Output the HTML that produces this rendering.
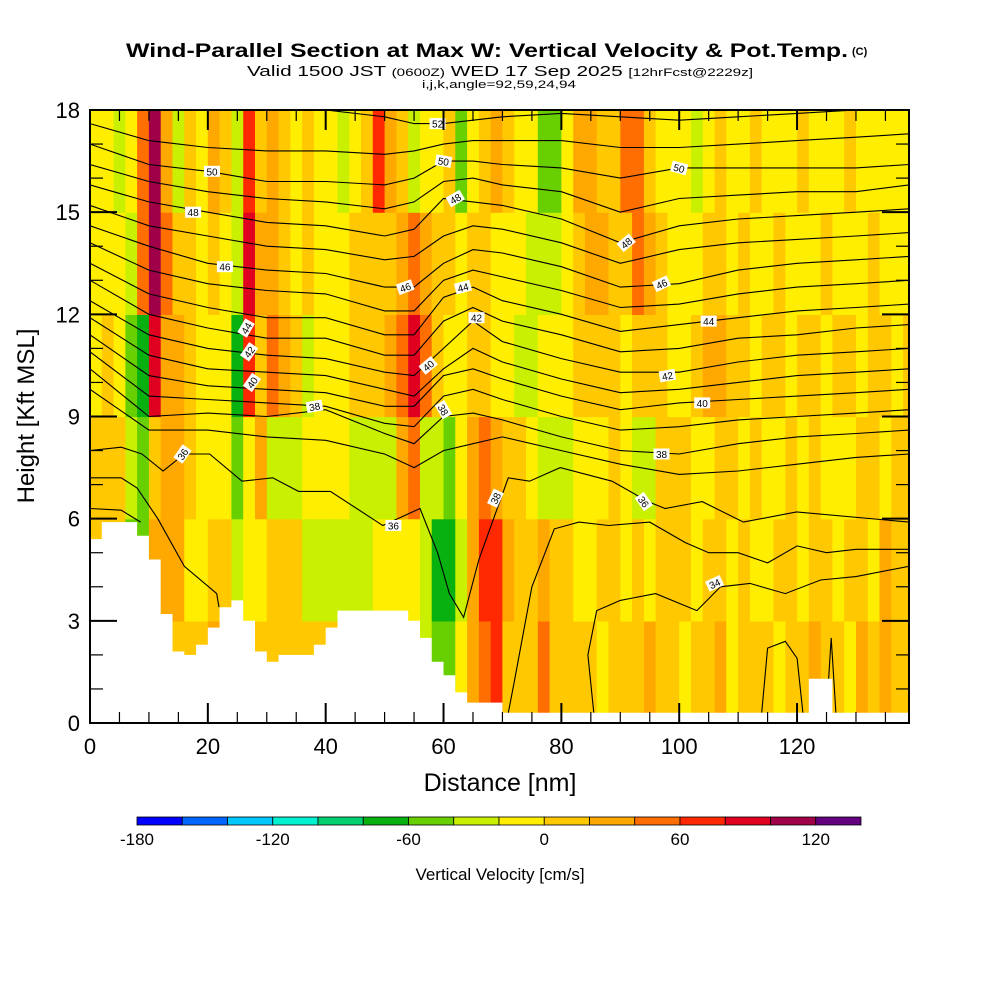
<!DOCTYPE html>
<html><head><meta charset="utf-8"><style>
html,body{margin:0;padding:0;background:#fff;}
svg{display:block;font-family:"Liberation Sans",Arial,sans-serif;}
</style></head><body>
<svg id="chart" width="1000" height="1000" viewBox="0 0 1000 1000">
<defs><clipPath id="plotclip"><rect x="90" y="110" width="819" height="613"/></clipPath></defs>
<g>
<text x="126" y="57" font-size="19" font-weight="bold" textLength="722" lengthAdjust="spacingAndGlyphs">Wind-Parallel Section at Max W: Vertical Velocity &amp; Pot.Temp.</text>
<text x="852" y="55" font-size="11" font-weight="bold">(C)</text>
<text x="247" y="76" font-size="15" textLength="506" lengthAdjust="spacingAndGlyphs">Valid 1500 JST <tspan font-size="11">(0600Z)</tspan> WED 17 Sep 2025 <tspan font-size="11">[12hrFcst@2229z]</tspan></text>
<text x="422" y="88" font-size="11" textLength="154" lengthAdjust="spacingAndGlyphs">i,j,k,angle=92,59,24,94</text>
</g>
<g id="field" clip-path="url(#plotclip)"></g>
<g id="contours" clip-path="url(#plotclip)"></g>
<g id="terrain" clip-path="url(#plotclip)"></g>
<g id="clabels" clip-path="url(#plotclip)"></g>
<g id="axes"></g>
<g id="cbar"></g>
<text x="500" y="791" font-size="25" text-anchor="middle">Distance [nm]</text>
<text transform="translate(34,416) rotate(-90)" font-size="24" text-anchor="middle">Height [Kft MSL]</text>
<text x="500" y="880" font-size="17" text-anchor="middle">Vertical Velocity [cm/s]</text>
</svg>
<script>
// ---- data ----
const xMax = 139, yMax = 18;
const xTicks = [0,20,40,60,80,100,120];
const yTicks = [0,3,6,9,12,15,18];
const colStep = 2; // nm per field column
const rowEdges = [0,3,6,9,12,15,18];
const wRow0 = [10,10,10,10,10,10,10,10,10,10, 30,10,10,10,10,10,10,10,10,10, 10,10,10,10,10,10,10,-30,-30,-50, -50,-10,30,50,70,10,10,10,50,10, 10,10,10,-10,10,10,10,30,10,10, -10,10,10,30,-10,10,10,10,-10,10, 10,30,10,10,-10,30,10,30,10,10];
const wRow1 = [10,10,10,-50,-50,30,30,30,-10,-10, 10,10,-30,-10,-10,10,10,10,-30,-30, -30,-30,-30,-30,-10,-10,-10,-10,-30,-70, -70,-30,30,70,70,30,10,10,30,10, 10,-10,-10,10,10,-10,10,-10,10,10, 10,-10,10,10,-10,10,-10,-10,10,10, -10,10,10,-10,10,10,-10,30,10,10];
const wRow2 = [10,10,10,-30,-50,10,30,30,10,-10, -10,-10,-50,-10,30,-30,-30,-30,-10,-10, -10,-10,-30,-30,-30,-30,30,50,-30,-30, -50,-10,30,50,30,10,10,-10,-30,-30, -30,-10,-10,-10,10,-10,-30,-30,10,10, 10,-10,-10,10,10,-10,10,-10,-10,10, -10,10,-10,-10,-10,10,10,-10,10,10];
const wRow3 = [-10,10,-10,-50,-70,90,30,30,10,-10, -10,-10,-70,70,10,50,30,10,-30,-10, -10,-10,10,10,10,30,50,90,50,10, -10,-10,10,10,-10,-10,-30,-30,-10,-10, -10,10,10,10,10,-10,10,10,10,-10, -10,10,30,30,10,10,-10,10,10,-10, 10,10,-10,10,10,-10,10,10,-10,10];
const wRow4 = [-10,-10,-10,-30,50,110,50,10,10,-10, 10,-10,-30,90,30,30,10,-10,10,-10, -10,-10,10,10,10,10,30,50,30,10, 10,-10,10,10,-10,-10,-10,-30,-30,-30, -10,10,30,30,10,10,50,30,10,-10, -10,-10,10,10,-10,10,-10,-10,10,-10, -10,-10,10,-10,-10,-10,10,-10,-10,-10];
const wRow5 = [-10,-10,-30,-10,50,110,30,-30,10,-10, 30,10,-30,70,10,30,10,-10,10,-10, -10,-30,-10,10,70,30,10,-30,-10,-10, 10,-50,-10,10,30,10,-10,-10,-50,-50, -10,30,30,10,10,50,50,10,-10,-10, -10,-30,-10,10,-10,-10,10,-10,-10,-10, 10,-10,-10,-10,10,-10,-10,-10,-10,-10];
const wRows = [wRow0,wRow1,wRow2,wRow3,wRow4,wRow5];
const terrain = [5.4,5.9,5.9,5.9,5.5,4.8,3.2,2.1,2.0,2.3, 2.8,3.4,3.6,3.0,2.1,1.8,2.0,2.0,2.0,2.3, 2.8,3.3,3.3,3.3,3.3,3.3,3.3,3.0,2.5,1.8, 1.4,0.9,0.6,0.6,0.6,0.3,0.3,0.3,0.3,0.3, 0.3,0.3,0.3,0.3,0.3,0.3,0.3,0.3,0.3,0.3, 0.3,0.3,0.3,0.3,0.3,0.3,0.3,0.3,0.3,0.3, 0.3,1.3,1.3,0.3,0.3,0.3,0.3,0.3,0.3,0.3];
const cbLevels = [-180,-160,-140,-120,-100,-80,-60,-40,-20,0,20,40,60,80,100,120,140];
const cbColors = ["#0000ff","#0064ff","#00c8ff","#00f0d0","#00d070","#08b010","#68d000","#c8f000","#ffee00","#ffc800","#ffa800","#ff6e00","#ff2800","#e00020","#a00048","#640080"];
const cbTicks = [-180,-120,-60,0,60,120];
const thetaNodes = [0,10,20,30,40,50,55,60,65,70,80,90,100,110,120,130,139];
const th52 = [18.6,18.3,18.2,18.0,18.0,17.8,17.6,17.6,17.7,17.8,17.9,17.8,17.7,17.8,17.9,18.0,18.0];
const th51 = [17.6,17.1,16.9,16.8,16.8,16.7,16.8,17.0,17.1,17.1,17.1,16.9,16.9,17.0,17.1,17.2,17.3];
const th50 = [17.0,16.4,16.2,15.9,15.9,15.8,16.0,16.5,16.5,16.4,16.3,16.0,16.3,16.3,16.3,16.3,16.4];
const th49 = [16.4,15.9,15.6,15.4,15.3,15.1,15.3,15.9,16.0,15.8,15.6,15.0,15.4,15.5,15.6,15.6,15.8];
const th48 = [15.8,15.3,15.0,14.7,14.6,14.3,14.5,15.4,15.3,15.2,14.8,14.1,14.6,14.8,14.9,15.0,15.1];
const th47 = [15.2,14.6,14.3,14.0,13.9,13.6,13.7,14.3,14.6,14.5,14.1,13.5,13.9,14.1,14.2,14.3,14.4];
const th46 = [14.6,14.0,13.5,13.3,13.2,12.8,12.8,13.5,13.9,13.8,13.4,12.8,12.9,13.3,13.5,13.6,13.7];
const th45 = [14.1,13.3,12.9,12.7,12.6,12.1,12.1,13.0,13.3,13.1,12.7,12.2,12.3,12.6,12.8,12.9,13.0];
const th44 = [13.5,12.6,12.2,11.9,11.9,11.4,11.4,12.5,12.8,12.4,12.0,11.5,11.7,11.9,12.1,12.2,12.3];
const th43 = [13.0,12.0,11.6,11.3,11.3,10.8,10.8,11.8,12.2,11.8,11.4,10.9,11.0,11.3,11.4,11.6,11.7];
const th42 = [12.4,11.4,11.0,10.8,10.7,10.3,10.2,11.0,11.8,11.2,10.7,10.3,10.3,10.6,10.8,10.9,11.0];
const th41 = [11.9,10.8,10.4,10.3,10.2,9.8,9.6,10.4,11.0,10.6,10.1,9.7,9.8,10.0,10.2,10.3,10.4];
const th40 = [11.4,10.2,9.9,9.8,9.7,9.3,9.3,10.2,10.4,10.1,9.6,9.2,9.4,9.5,9.6,9.7,9.8];
const th39 = [10.9,9.6,9.5,9.4,9.3,8.8,8.7,9.6,9.8,9.5,9.0,8.6,8.7,8.9,9.0,9.1,9.2];
const th38 = [10.4,9.0,9.1,9.0,9.2,8.5,8.2,9.0,9.1,8.9,8.4,8.0,7.9,8.2,8.4,8.5,8.6];
const th37 = [9.8,8.6,8.6,8.4,8.3,7.9,7.5,8.0,8.2,8.4,8.0,7.6,7.3,7.4,7.6,7.8,7.9];
const upperTheta = [th52,th51,th50,th49,th48,th47,th46,th45,th44,th43,th42,th41,th40,th39,th38,th37];
const c36x = [0,5.3,8.8,12.4,16,20.3,25.8,31,35.4,40.8,49.7,56,59,61,63.4,66,71,74.6,79.8,88.6,94.7,97.6,103.9,110.9,119.9,139];
const c36h = [8.0,8.1,7.9,7.4,7.9,7.9,7.1,7.2,6.8,6.8,5.8,6.3,5.0,3.8,3.1,4.8,7.2,7.1,7.5,7.1,6.5,6.3,6.5,5.9,6.2,5.9];
const c35x = [0,5.3,8,11.5,16,21.5,21.9];
const c35h = [7.2,7.2,6.9,6.0,4.6,3.8,3.4];
const c35bx = [71,72,75,78.8,83,88,95,101,105,110,115,120,125,130,139];
const c35bh = [0.3,1.2,4.0,5.7,5.9,5.8,5.9,5.3,5.0,5.0,4.7,5.2,5.0,5.1,5.1];
const c34x = [0,5.3,8.6];
const c34h = [6.3,6.25,5.9];
const c34bx = [85.5,84.5,86,90,96,103,107,112,118,124,130,139];
const c34bh = [0.3,2.0,3.3,3.6,3.8,3.3,4.0,4.1,3.8,4.2,4.3,4.6];
const c33ax = [114,115,118,120,121];
const c33ah = [0.3,2.2,2.4,1.9,0.3];
const c33bx = [125,125.8,126.6];
const c33bh = [0.3,2.5,0.3];
const labelText = ["52","50","50","50","48","48","48","46","46","46","44","44","44","42","42","42","40","40","40","38","38","38","36","36","38","36","34"];
const labelX = [59,20.7,60,100,17.5,62,91,22.9,53.5,97,26.5,63.3,105,27,65.6,98,27.5,57.4,103.9,38.1,60,97,15.7,51.5,68.8,94,106];
const labelH = [17.6,16.2,16.5,16.3,15.0,15.4,14.1,13.4,12.8,12.9,11.6,12.8,11.8,10.9,11.9,10.2,10.0,10.5,9.4,9.3,9.2,7.9,7.9,5.8,6.6,6.5,4.1];
const labelAng = [0,0,10,15,0,-30,-40,0,-20,-25,-60,-15,0,-55,0,-10,-55,-40,0,-10,60,0,-55,0,-65,55,-25];

// ---- axis functions ----
const X0=90, X1=909, Y0=723, Y1=110;
const sx = d => X0 + d/xMax*(X1-X0);
const sy = h => Y0 - h/yMax*(Y0-Y1);
const NS="http://www.w3.org/2000/svg";
function mk(tag, attrs, parent){const e=document.createElementNS(NS,tag);for(const k in attrs)e.setAttribute(k,attrs[k]);parent.appendChild(e);return e;}
function colorFor(v){for(let i=0;i<cbColors.length;i++){if(v<cbLevels[i+1])return cbColors[i];}return cbColors[cbColors.length-1];}

// field
const field=document.getElementById('field');
wRows.forEach((row,r)=>{
  row.forEach((v,i)=>{
    const x0=sx(i*colStep), x1=sx((i+1)*colStep);
    const yTop=sy(rowEdges[r+1]), yBot=sy(rowEdges[r]);
    const c=mk('rect',{x:x0.toFixed(1),y:yTop.toFixed(1),width:(x1-x0+0.6).toFixed(1),height:(yBot-yTop+0.6).toFixed(1),fill:colorFor(v)},field);
    
    
  });
});

// contours
const cg=document.getElementById('contours');
function line(xs,hs,name){
  const p=xs.map((d,i)=>(i?'L':'M')+sx(d).toFixed(1)+','+sy(hs[i]).toFixed(1)).join('');
  const e=mk('path',{d:p,fill:'none',stroke:'#000','stroke-width':1.1},cg);
  
  
}
upperTheta.forEach((arr,k)=>line(thetaNodes,arr,'theta-contour-'+(52-k)));
line(c36x,c36h,'theta-contour-36');
line(c35x,c35h,'theta-contour-35-west');
line(c35bx,c35bh,'theta-contour-35-east');
line(c34x,c34h,'theta-contour-34-west');
line(c34bx,c34bh,'theta-contour-34-east');
line(c33ax,c33ah,'theta-contour-33-a');
line(c33bx,c33bh,'theta-contour-33-b');

// terrain
const tg=document.getElementById('terrain');
let tp='M'+sx(0)+','+sy(0);
terrain.forEach((h,i)=>{tp+='L'+sx(i*colStep).toFixed(1)+','+sy(h).toFixed(1)+'L'+sx((i+1)*colStep).toFixed(1)+','+sy(h).toFixed(1);});
tp+='L'+sx(terrain.length*colStep).toFixed(1)+','+sy(0)+'Z';
const tEl=mk('path',{d:tp,fill:'#fff',stroke:'none'},tg);



// contour labels
const lg=document.getElementById('clabels');
labelText.forEach((t,i)=>{
  const g=mk('g',{transform:`translate(${sx(labelX[i]).toFixed(1)},${sy(labelH[i]).toFixed(1)}) rotate(${labelAng[i]})`},lg);
  
  
  mk('rect',{x:-8,y:-5.5,width:16,height:11,fill:'#fff'},g);
  const tx=mk('text',{x:0,y:4,'font-size':10,'text-anchor':'middle'},g);
  tx.textContent=t;
});

// axes
const ag=document.getElementById('axes');
const frame=mk('rect',{x:X0,y:Y1,width:X1-X0,height:Y0-Y1,fill:'none',stroke:'#000','stroke-width':2},ag);


for(let d=0; d<=xMax; d+=5){
  const len=(d%20===0)?20:11;
  mk('line',{x1:sx(d),x2:sx(d),y1:Y0,y2:Y0-len,stroke:'#000','stroke-width':(d%20===0)?2:1.2},ag);
  mk('line',{x1:sx(d),x2:sx(d),y1:Y1,y2:Y1+len,stroke:'#000','stroke-width':(d%20===0)?2:1.2},ag);
}
for(let h=0; h<=yMax; h+=1){
  const len=(h%3===0)?27:13;
  mk('line',{x1:X0,x2:X0+len,y1:sy(h),y2:sy(h),stroke:'#000','stroke-width':(h%3===0)?2:1.2},ag);
  mk('line',{x1:X1,x2:X1-len,y1:sy(h),y2:sy(h),stroke:'#000','stroke-width':(h%3===0)?2:1.2},ag);
}
xTicks.forEach(v=>{
  const t=mk('text',{x:sx(v),y:754,'font-size':22,'text-anchor':'middle'},ag);
  
  
  t.textContent=v;
});
yTicks.forEach(v=>{
  const t=mk('text',{x:80,y:sy(v)+8,'font-size':22,'text-anchor':'end'},ag);
  
  
  t.textContent=v;
});

// colorbar
const cb=document.getElementById('cbar');
const CB0=137, CB1=861, CBY=817, CBH=8;
const cbx=v=>CB0+(v-cbLevels[0])/(cbLevels[cbLevels.length-1]-cbLevels[0])*(CB1-CB0);
cbColors.forEach((c,i)=>{
  const r=mk('rect',{x:cbx(cbLevels[i]),y:CBY,width:cbx(cbLevels[i+1])-cbx(cbLevels[i]),height:CBH,fill:c,stroke:'#000','stroke-width':0.8},cb);
  
  
});
cbTicks.forEach(v=>{
  const t=mk('text',{x:cbx(v),y:845,'font-size':17,'text-anchor':'middle'},cb);
  
  
  t.textContent=v;
});
</script>
</body></html>
